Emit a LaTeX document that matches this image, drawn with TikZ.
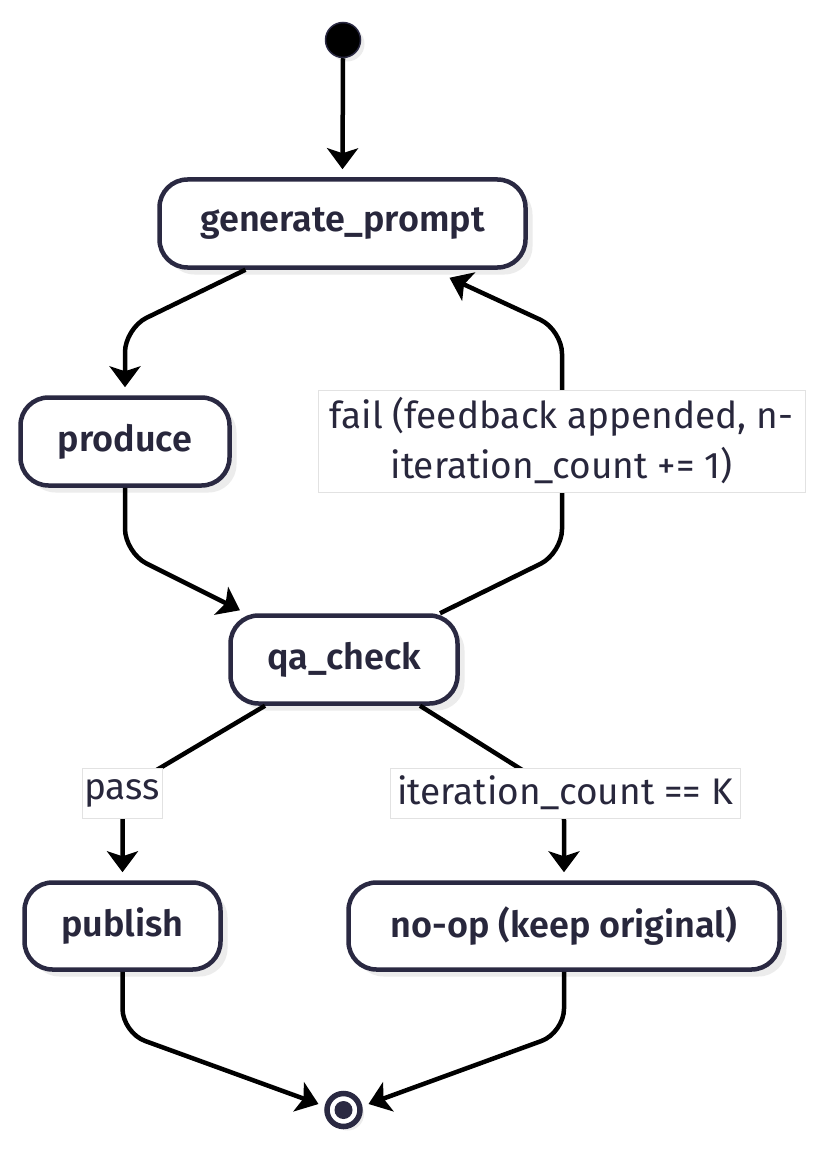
\documentclass[tikz,border=0pt]{standalone}
\usepackage{fontspec}
\setmainfont{Fira Sans}
\newfontfamily\semibf{Fira Sans SemiBold}
\usetikzlibrary{arrows.meta,calc,shadows}
\definecolor{navy}{RGB}{42,41,66}
\definecolor{txt}{RGB}{40,39,60}
\definecolor{lblborder}{RGB}{226,226,226}
\definecolor{shad}{RGB}{236,236,236}
\begin{document}
\begin{tikzpicture}[x=1pt,y=-1pt,
  state/.style={draw=navy, line width=4.5pt, rounded corners=28pt, fill=white, text=txt,
    font=\fontsize{36}{42}\selectfont\semibf, minimum height=88pt, inner sep=0pt,
    general shadow={shadow xshift=7pt, shadow yshift=-7pt, fill=shad}},
  lbl/.style={draw=lblborder, line width=1pt, fill=white, text=txt, align=center,
    font=\fontsize{37}{50}\selectfont, inner sep=0pt},
  edge/.style={line width=4.5pt, rounded corners=24pt, draw=black,
    -{Stealth[length=21pt,width=31pt,inset=5pt]}}
]
\useasboundingbox (0,0) rectangle (825,1150);
\fill[white] (0,0) rectangle (825,1150);

% nodes
\node[circle, fill=black, draw=navy, line width=1.5pt, minimum size=35pt, inner sep=0pt,
  general shadow={shadow xshift=4pt, shadow yshift=-4pt, fill=shad}] (start) at (343,40) {};
\node[state, minimum width=366pt] (gp) at (342.5,223.5) {generate\_prompt};
\node[state, minimum width=209pt] (produce) at (125,441.5) {produce};
\node[state, minimum width=227pt] (qa) at (344,659.5) {qa\_check};
\node[state, minimum width=196pt, minimum height=87pt] (publish) at (122.5,926) {publish};
\node[state, minimum width=431pt, minimum height=87pt] (noop) at (564,926) {no-op (keep original)};
\node[circle, draw=navy, line width=5.5pt, fill=white, minimum size=33pt, inner sep=0pt,
  general shadow={shadow xshift=4pt, shadow yshift=-4pt, fill=shad}] (end) at (343.5,1110) {};
\node[circle, fill=navy, minimum size=18pt, inner sep=0pt] (enddot) at (end.center) {};

% edges
\draw[edge] (start.south) -- ($(gp.north)+(0,-8)$);
\draw[edge] ($(gp.south)+(-97,0)$) -- ($(produce.north)+(0,-67)$) -- ($(produce.north)+(0,-8)$);
\draw[edge] (produce.south) -- ($(produce.south)+(0,65)$) -- ($(qa.north)+(-104,-3)$);
\draw[edge] ($(qa.north)+(96,0)$) -- ($(qa.north)+(218,-60)$) -- ($(gp.south)+(219.5,60)$) -- ($(gp.south)+(107,8)$);
\draw[edge] ($(qa.south)+(-79,0)$) -- ($(publish.north)+(0,-90)$) -- ($(publish.north)+(0,-8)$);
\draw[edge] ($(qa.south)+(76,0)$) -- ($(noop.north)+(0,-84)$) -- ($(noop.north)+(0,-8)$);
\draw[edge] (publish.south) -- ($(publish.south)+(0,61)$) -- ($(end.center)+(-25,-6)$);
\draw[edge] (noop.south) -- ($(noop.south)+(0,61)$) -- ($(end.center)+(25,-6)$);

% labels
\node[lbl, minimum width=487pt, minimum height=102pt] (lfail) at (561.5,441)
  {fail (feedback appended, n-\\iteration\_count += 1)};
\node[lbl, minimum width=80pt, minimum height=50pt] (lpass) at (122,793) {pass};
\node[lbl, minimum width=350pt, minimum height=50pt] (liter) at (565,793) {iteration\_count == K};
\end{tikzpicture}
\end{document}
